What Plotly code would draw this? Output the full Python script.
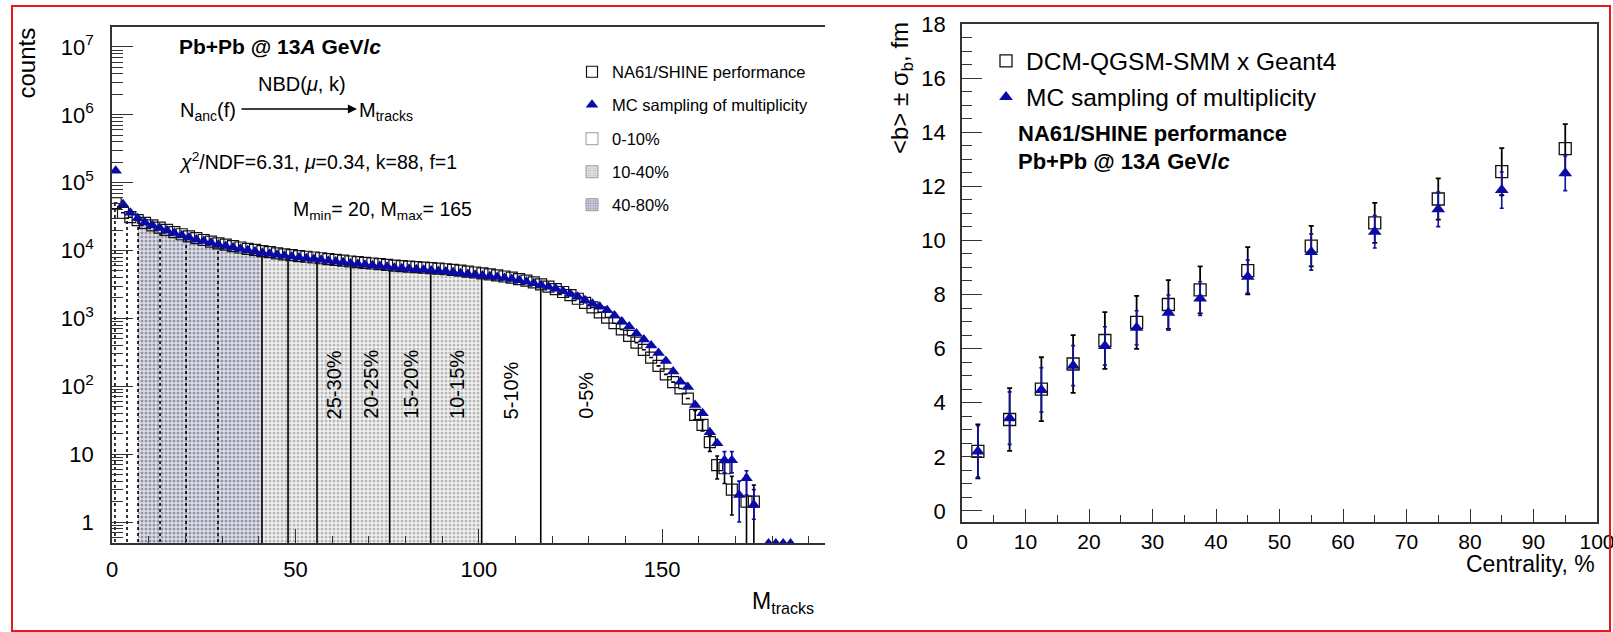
import plotly.graph_objects as go

# ---------------- data: left panel (multiplicity distribution) ----------------
M_CENTERS = list(range(1, 176, 2))  # bin centres, bin width 2

NA61_COUNTS = [50000, 36000, 31000, 28000, 25500, 23500, 21800, 20200, 18700, 17400,
               16200, 15200, 14300, 13500, 12800, 12200, 11600, 11100, 10600, 10200,
               9800, 9450, 9100, 8800, 8550, 8300, 8100, 7900, 7700, 7500,
               7300, 7100, 6900, 6750, 6600, 6450, 6300, 6150, 6000, 5900,
               5800, 5700, 5600, 5500, 5400, 5300, 5200, 5050, 4900, 4750,
               4600, 4450, 4300, 4150, 3980, 3800, 3600, 3400, 3180, 2950,
               2700, 2450, 2200, 1950, 1700, 1450, 1230, 1030, 850, 690,
               555, 440, 345, 265, 200, 150, 115, 93, 66, 38,
               27, 15, 6.9, 6.2, 3.0, None, 2.0, 2.0]

MC_COUNTS = [150000, 48000, 36000, 30000, 26000, 23500, 21500, 19800, 18200, 16800,
             15600, 14600, 13800, 13000, 12300, 11700, 11100, 10600, 10100, 9700,
             9300, 9000, 8700, 8400, 8150, 7900, 7700, 7500, 7300, 7100,
             6900, 6700, 6500, 6350, 6200, 6050, 5900, 5750, 5600, 5500,
             5400, 5300, 5200, 5100, 5000, 4900, 4800, 4650, 4500, 4400,
             4300, 4200, 4080, 3950, 3800, 3650, 3480, 3300, 3120, 2930,
             2730, 2520, 2300, 2080, 1850, 1650, 1480, 1320, 1100, 900,
             760, 600, 490, 400, 310, 235, 165, 117, 98, 53,
             40, 21, 14.5, 8.1, 8.1, 2.5, 4.4, 1.8]

MC_TAIL_M = [179, 181, 183, 185]
MC_TAIL_COUNTS = [0.5, 0.5, 0.5, 0.5]

# statistical errors in the tail
NA61_ERR_M = [159, 161, 163, 165, 167, 169, 173, 175]
NA61_ERR_PLUS = [6, 5, 4, 2.5, 2.5, 1.7, 2.9, 1.5]
NA61_ERR_MINUS = [6, 5, 4, 2.6, 2.5, 1.73, 1.7, 1.7]
MC_ERR_M = [167, 169, 171, 173, 175]
MC_ERR_PLUS = [2.8, 2.8, 1.5, 1.3, 1.2]
MC_ERR_MINUS = [2.8, 2.8, 1.5, 1.9, 0.7]

# centrality class boundaries in M_tracks
SOLID_CUTS = [40.9, 48.0, 55.9, 65.1, 75.7, 86.9, 100.8, 116.9]
DOTTED_CUTS = [0.8, 4.1, 7.1, 13.1, 20.2, 28.9]
SHADE_40_80 = (7.1, 40.9)
SHADE_10_40 = (40.9, 100.8)

CLASS_LABELS = ["25-30%", "20-25%", "15-20%", "10-15%", "5-10%", "0-5%"]
CLASS_LABEL_M = [60.5, 70.4, 81.3, 93.9, 108.9, 129.0]

LEFT_XTICKS = [0, 50, 100, 150]
LEFT_YTICKS = [1, 10, 100, 1000, 1e4, 1e5, 1e6, 1e7]
LEFT_YTICKTEXT = ["1", "10", "10<sup>2</sup>", "10<sup>3</sup>", "10<sup>4</sup>",
                  "10<sup>5</sup>", "10<sup>6</sup>", "10<sup>7</sup>"]

# ---------------- data: right panel (<b> vs centrality) ----------------
CENTRALITY = [2.5, 7.5, 12.5, 17.5, 22.5, 27.5, 32.5, 37.5, 45, 55, 65, 75, 85, 95]
B_DCM = [2.2, 3.38, 4.5, 5.43, 6.3, 6.97, 7.63, 8.17, 8.88, 9.79, 10.65, 11.53, 12.54, 13.39]
B_DCM_ERR = [1.0, 1.16, 1.18, 1.07, 1.05, 0.98, 0.9, 0.87, 0.87, 0.75, 0.74, 0.76, 0.87, 0.91]
B_MC = [2.2, 3.43, 4.47, 5.37, 6.1, 6.77, 7.33, 7.85, 8.66, 9.57, 10.32, 11.15, 11.86, 12.48]
B_MC_ERR = [0.95, 0.97, 0.82, 0.74, 0.71, 0.63, 0.65, 0.62, 0.61, 0.67, 0.6, 0.64, 0.67, 0.64]

# ---------------- styling helpers ----------------
FONT = "Liberation Sans, Arial, Helvetica, sans-serif"
W, H = 1613, 632
BLUE = "#0a0aa6"
AXC = "#333333"


def px(p):
    return p / W


def py(p):
    return 1 - p / H


def hist_val(x):
    idx = int(x // 2)
    idx = max(0, min(idx, len(NA61_COUNTS) - 1))
    return NA61_COUNTS[idx]


def step_region(a, b):
    xs = [a] + [c - 1 for c in M_CENTERS if a < c - 1 < b] + [b]
    ys = [hist_val(x) for x in xs]
    return xs, ys


fig = go.Figure()

DARK_PAT = ("#9494ac", "#e0e0e8")
LIGHT_PAT = ("#b8b8b8", "#f3f3f3")

# shaded centrality regions (filled histogram)
for (a, b), (fg, bg) in [(SHADE_40_80, DARK_PAT), (SHADE_10_40, LIGHT_PAT)]:
    xs, ys = step_region(a, b)
    fig.add_trace(go.Scatter(
        x=xs, y=ys, mode="lines", line=dict(width=0, shape="hv"),
        fill="tozeroy", fillcolor=bg,
        fillpattern=dict(shape=".", fgcolor=fg, bgcolor=bg, size=4, solidity=0.45),
        showlegend=False, hoverinfo="skip", xaxis="x", yaxis="y"))

# boundary lines
for cuts, dash in [(SOLID_CUTS, "solid"), (DOTTED_CUTS, "dot")]:
    lx, ly = [], []
    for c in cuts:
        lx += [c, c, None]
        ly += [0.1, hist_val(c), None]
    fig.add_trace(go.Scatter(x=lx, y=ly, mode="lines",
                             line=dict(color="black", width=1.6, dash=dash),
                             showlegend=False, hoverinfo="skip", xaxis="x", yaxis="y"))

# error arrays
na_plus = [None] * len(M_CENTERS)
na_minus = [None] * len(M_CENTERS)
for m, p, q in zip(NA61_ERR_M, NA61_ERR_PLUS, NA61_ERR_MINUS):
    i = M_CENTERS.index(m)
    na_plus[i], na_minus[i] = p, q
mc_plus = [None] * len(M_CENTERS)
mc_minus = [None] * len(M_CENTERS)
for m, p, q in zip(MC_ERR_M, MC_ERR_PLUS, MC_ERR_MINUS):
    i = M_CENTERS.index(m)
    mc_plus[i], mc_minus[i] = p, q

fig.add_trace(go.Scatter(
    x=M_CENTERS, y=NA61_COUNTS, mode="markers", name="NA61/SHINE performance",
    marker=dict(symbol="square-open", size=11, color="#111111", line=dict(width=1.2)),
    error_y=dict(type="data", array=na_plus, arrayminus=na_minus, color="black",
                 thickness=1.6, width=2),
    legend="legend", xaxis="x", yaxis="y"))
fig.add_trace(go.Scatter(
    x=M_CENTERS, y=MC_COUNTS, mode="markers", name="MC sampling of multiplicity",
    marker=dict(symbol="triangle-up", size=11, color=BLUE, line=dict(width=0)),
    error_y=dict(type="data", array=mc_plus, arrayminus=mc_minus, color=BLUE,
                 thickness=1.6, width=2),
    legend="legend2", xaxis="x", yaxis="y"))
fig.add_trace(go.Scatter(
    x=MC_TAIL_M, y=MC_TAIL_COUNTS, mode="markers", showlegend=False,
    marker=dict(symbol="triangle-up", size=9, color=BLUE), xaxis="x", yaxis="y"))

# legend-only patterned boxes
for name, lg, pat in [("0-10%", "legend3", None),
                      ("10-40%", "legend4", LIGHT_PAT),
                      ("40-80%", "legend5", DARK_PAT)]:
    mk = dict(color="white", line=dict(color="#999999", width=1))
    if pat:
        mk["color"] = pat[1]
        mk["pattern"] = dict(shape=".", fgcolor=pat[0], bgcolor=pat[1], size=3, solidity=0.45)
    fig.add_trace(go.Bar(x=[None], y=[None], name=name, marker=mk, legend=lg,
                         xaxis="x", yaxis="y"))

# right panel
fig.add_trace(go.Scatter(
    x=CENTRALITY, y=B_DCM, mode="markers", name="DCM-QGSM-SMM x Geant4",
    marker=dict(symbol="square-open", size=12, color="#111111", line=dict(width=1.3)),
    error_y=dict(type="data", array=B_DCM_ERR, color="black", thickness=1.8, width=2.5),
    legend="legend6", xaxis="x2", yaxis="y2"))
fig.add_trace(go.Scatter(
    x=CENTRALITY, y=B_MC, mode="markers", name="MC sampling of multiplicity",
    marker=dict(symbol="triangle-up", size=12, color=BLUE, line=dict(width=0)),
    error_y=dict(type="data", array=B_MC_ERR, color="#10109a", thickness=1.6, width=2),
    legend="legend7", xaxis="x2", yaxis="y2"))

# ---------------- layout ----------------
minor_log = [k * 10 ** n for n in range(-1, 8) for k in range(2, 10)]

common_axis = dict(showline=True, linecolor=AXC, linewidth=1.5, mirror=True,
                   ticks="inside", tickcolor=AXC, tickwidth=1.2, showgrid=False,
                   zeroline=False, ticklabeloverflow="allow", automargin=False)

legend_common = dict(bgcolor="rgba(0,0,0,0)", borderwidth=0, xanchor="left",
                     yanchor="middle", itemclick=False, itemdoubleclick=False)

lf = dict(family=FONT, size=16.5, color="black")
rf = dict(family=FONT, size=24.5, color="black")

left_y_axis = dict(common_axis)
left_y_axis["mirror"] = False  # the left frame is open on its right side

layout = dict(
    template="none",
    width=W, height=H, margin=dict(l=0, r=0, t=0, b=0, pad=0, autoexpand=False),
    paper_bgcolor="white", plot_bgcolor="white",
    font=dict(family=FONT, color="black"),
    barmode="overlay",
    xaxis=dict(domain=[px(112), px(825)], range=[0, 194.4], anchor="y",
               tickvals=LEFT_XTICKS, ticklen=14, ticklabelstandoff=6,
               tickfont=dict(family=FONT, size=22, color="black"),
               minor=dict(ticks="inside", ticklen=7, dtick=10, tick0=0,
                          tickcolor=AXC, tickwidth=1.2, showgrid=False),
               **common_axis),
    yaxis=dict(domain=[py(543), py(27)], type="log", range=[-0.309, 7.294], anchor="x",
               tickvals=LEFT_YTICKS, ticktext=LEFT_YTICKTEXT, ticklen=21,
               ticklabelstandoff=12,
               tickfont=dict(family=FONT, size=22, color="black"),
               minor=dict(ticks="inside", ticklen=11, tickvals=minor_log,
                          tickcolor=AXC, tickwidth=1.0, showgrid=False),
               **left_y_axis),
    xaxis2=dict(domain=[px(962), px(1597)], range=[0, 100], anchor="y2",
                tick0=0, dtick=10, ticklen=13, ticklabelstandoff=0,
                tickfont=dict(family=FONT, size=21, color="black"),
                minor=dict(ticks="inside", ticklen=7, dtick=5, tick0=0,
                           tickcolor=AXC, tickwidth=1.2, showgrid=False),
                **common_axis),
    yaxis2=dict(domain=[py(522), py(24)], range=[-0.41, 18.0], anchor="x2",
                tick0=0, dtick=2, ticklen=20, ticklabelstandoff=10,
                tickfont=dict(family=FONT, size=22, color="black"),
                minor=dict(ticks="inside", ticklen=10, dtick=0.5, tick0=0,
                           tickcolor=AXC, tickwidth=1.0, showgrid=False),
                **common_axis),
    legend=dict(x=px(572), y=py(72), font=lf, **legend_common),
    legend2=dict(x=px(572), y=py(105), font=lf, **legend_common),
    legend3=dict(x=px(572), y=py(139), font=lf, **legend_common),
    legend4=dict(x=px(572), y=py(172), font=lf, **legend_common),
    legend5=dict(x=px(572), y=py(205), font=lf, **legend_common),
    legend6=dict(x=px(986), y=py(61), font=rf, **legend_common),
    legend7=dict(x=px(986), y=py(97), font=rf, **legend_common),
)
fig.update_layout(**layout)

ann = []


def text(t, x, y, size, xanchor="left", yanchor="middle", angle=0, xref="paper", yref="paper"):
    ann.append(dict(text=t, x=x, y=y, xref=xref, yref=yref, xanchor=xanchor,
                    yanchor=yanchor, textangle=angle, showarrow=False,
                    font=dict(family=FONT, size=size, color="black")))


# left panel texts
text("<b>Pb+Pb @ 13<i>A</i> GeV/<i>c</i></b>", px(177), py(47), 21)
text("NBD(<i>μ</i>, k)", px(302), py(84), 20, xanchor="center")
text("N<sub>anc</sub>(f)", px(178), py(111), 20)
text("M<sub>tracks</sub>", px(357), py(111), 20)
ann.append(dict(text="", x=px(357), y=py(109), xref="paper", yref="paper",
                ax=-117, ay=0, axref="pixel", ayref="pixel", showarrow=True,
                arrowhead=2, arrowsize=1.4, arrowwidth=1.3, arrowcolor="black",
                standoff=0, startstandoff=0))
text("<i>χ</i><sup>2</sup>/NDF=6.31, <i>μ</i>=0.34, k=88, f=1", px(177), py(161), 19.5)
text("M<sub>min</sub>= 20, M<sub>max</sub>= 165", px(291), py(210), 19.5)
for lbl, m in zip(CLASS_LABELS, CLASS_LABEL_M):
    text(lbl, m, py(421), 20, xanchor="center", yanchor="bottom", angle=-90, xref="x")
text("counts", px(26), py(26), 24, xanchor="center", yanchor="top", angle=-90)
text("M<sub>tracks</sub>", px(816), py(602), 23, xanchor="right")

# right panel texts
text("<b>NA61/SHINE performance</b>", px(1016), py(133), 22)
text("<b>Pb+Pb @ 13<i>A</i> GeV/<i>c</i></b>", px(1016), py(161), 22)
text("&lt;b&gt; ± σ<sub>b</sub>, fm", px(902), py(20), 24, xanchor="center", yanchor="top", angle=-90)
text("Centrality, %", px(1597), py(564), 23, xanchor="right")

fig.update_layout(annotations=ann)

# outer red frame
fig.add_shape(type="rect", xref="paper", yref="paper", x0=px(12), x1=px(1610),
              y0=py(631), y1=py(6), line=dict(color="#e8191c", width=2),
              fillcolor="rgba(0,0,0,0)", layer="above")

fig.write_html("out.html")
